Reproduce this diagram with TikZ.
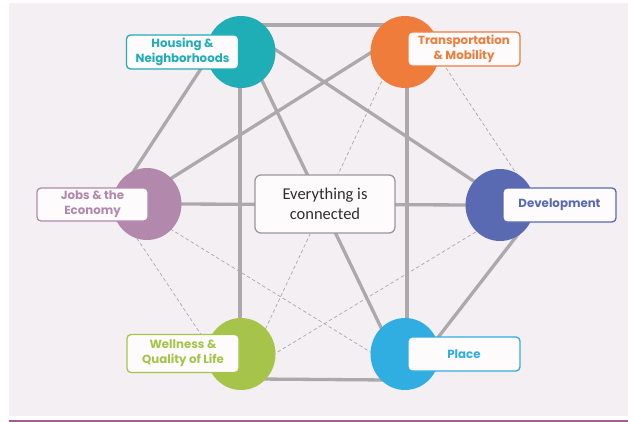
\documentclass[tikz,border=0pt]{standalone}
\usepackage{fontspec}
\usetikzlibrary{shapes.geometric}
\setmainfont{Poppins}
\newfontfamily\cfont{Carlito}
\definecolor{bgc}{HTML}{F3EFF2}
\definecolor{edgec}{HTML}{ABA9AB}
\definecolor{cH}{HTML}{1FADB6}
\definecolor{cT}{HTML}{F07C3C}
\definecolor{cJ}{HTML}{B288AC}
\definecolor{cD}{HTML}{5A6AB2}
\definecolor{cW}{HTML}{A6C44A}
\definecolor{cP}{HTML}{30AEE2}
\definecolor{boxfill}{HTML}{FDFBFC}
\definecolor{purp}{HTML}{A0608F}
\tikzset{
  hub/.style={ellipse, minimum width=69pt, minimum height=72pt, inner sep=0pt, fill=#1},
  lab/.style={draw=#1, line width=1.3pt, rounded corners=4pt, fill=boxfill, text=#1,
     font=\fontsize{11.8}{15}\selectfont\bfseries, align=center, inner sep=0pt,
     minimum width=112pt, minimum height=34pt},
  centerbox/.style={draw=edgec!90!black, line width=1.3pt, rounded corners=6pt, fill=boxfill,
     font=\cfont\fontsize{16.5}{20.5}\selectfont, text=black!82, align=center,
     minimum width=140pt, minimum height=58pt, inner sep=0pt},
  solidedge/.style={draw=edgec, line width=3.3pt},
  dashedge/.style={draw=edgec, line width=0.7pt, dash pattern=on 3.5pt off 2.5pt},
}
\begin{document}
\begin{tikzpicture}[x=1pt,y=-1pt]
\useasboundingbox (0,0) rectangle (628,422);
\fill[white] (0,0) rectangle (628,422);
\fill[bgc] (9,3.3) rectangle (628,416);
\draw[purp, line width=1.5pt] (9,421) -- (628,421);
% hub positions
\coordinate (Hc) at (241,52);
\coordinate (Tc) at (405,52);
\coordinate (Jc) at (147,204);
\coordinate (Dc) at (500,205);
\coordinate (Wc) at (241,354);
\coordinate (Pc) at (405,354);
% connector end points (hidden under hubs / labels)
\coordinate (ht1) at (258,25);   \coordinate (ht2) at (388,25);
\coordinate (wp1) at (258,379);  \coordinate (wp2) at (388,380);
\coordinate (hj1) at (206,61);   \coordinate (hj2) at (128,180);
\coordinate (hw1) at (240,70);   \coordinate (hw2) at (240,340);
\coordinate (hp1) at (255,66);   \coordinate (hp2) at (387,340);
\coordinate (hd1) at (271,46.7); \coordinate (hd2) at (477,183.3);
\coordinate (tj1) at (377,48.8); \coordinate (tj2) at (167,181);
\coordinate (tp1) at (407,70);   \coordinate (tp2) at (407,340);
\coordinate (tw1) at (384.3,75.9); \coordinate (tw2) at (261.7,337);
\coordinate (td1) at (442.7,63); \coordinate (td2) at (518.4,176.7);
\coordinate (jd1) at (170,204);  \coordinate (jd2) at (480,205);
\coordinate (jw1) at (133.6,233.3); \coordinate (jw2) at (203.3,338);
\coordinate (jp1) at (165.2,225.8); \coordinate (jp2) at (375.4,355.1);
\coordinate (dw1) at (480.8,228.9); \coordinate (dw2) at (270.9,356.1);
\coordinate (dp1) at (524,226.5); \coordinate (dp2) at (436.3,339.7);
% solid edges
\draw[solidedge] (ht1) -- (ht2);
\draw[solidedge] (wp1) -- (wp2);
\draw[solidedge] (hj1) -- (hj2);
\draw[solidedge] (hw1) -- (hw2);
\draw[solidedge] (hp1) -- (hp2);
\draw[solidedge] (hd1) -- (hd2);
\draw[solidedge] (tj1) -- (tj2);
\draw[solidedge] (tp1) -- (tp2);
\draw[solidedge] (jd1) -- (jd2);
\draw[solidedge] (dp1) -- (dp2);
% dashed edges
\draw[dashedge] (tw1) -- (tw2);
\draw[dashedge] (td1) -- (td2);
\draw[dashedge] (jw1) -- (jw2);
\draw[dashedge] (jp1) -- (jp2);
\draw[dashedge] (dw1) -- (dw2);
% hubs
\node[hub=cH] (H) at (Hc) {};
\node[hub=cT] (T) at (Tc) {};
\node[hub=cJ] (J) at (Jc) {};
\node[hub=cD] (D) at (Dc) {};
\node[hub=cW] (W) at (Wc) {};
\node[hub=cP] (P) at (Pc) {};
% center
\node[centerbox] (C) at (325,204) {Everything is\\connected};
% labels
\node[lab=cH] (LH) at (182.5,52) {Housing \&\\Neighborhoods};
\node[lab=cT] (LT) at (464,49) {Transportation\\\& Mobility};
\node[lab=cJ, minimum width=111pt, minimum height=33pt] (LJ) at (92.5,204.5) {Jobs \& the\\Economy};
\node[lab=cD, minimum width=113pt] (LD) at (559.5,205) {Development};
\node[lab=cW, minimum height=38pt] (LW) at (183,353.5) {Wellness \&\\Quality of Life};
\node[lab=cP] (LP) at (464,354) {Place};
\end{tikzpicture}
\end{document}
